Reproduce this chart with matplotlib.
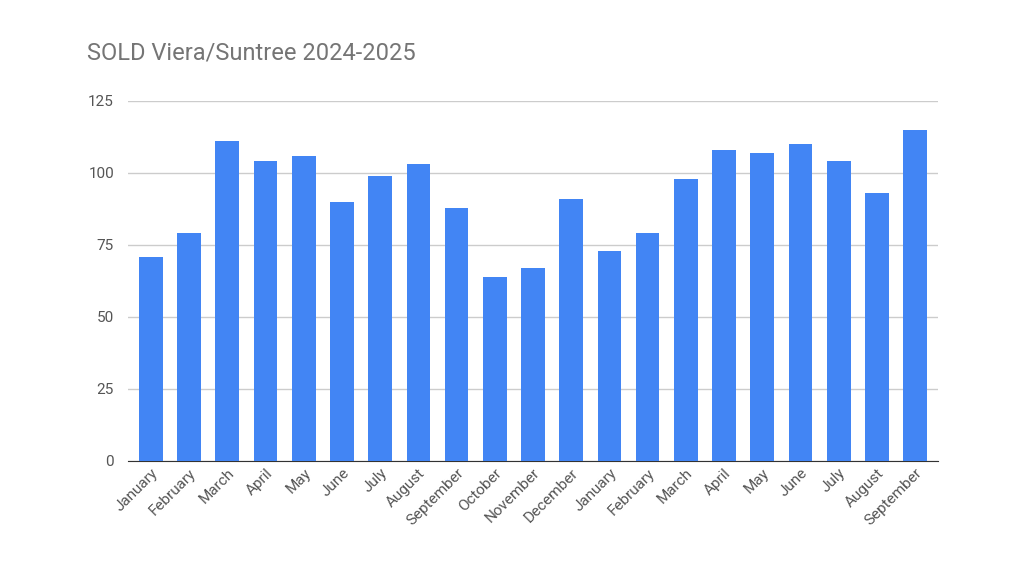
import matplotlib
matplotlib.use("Agg")
import matplotlib.pyplot as plt

months = ["January", "February", "March", "April", "May", "June", "July", "August",
          "September", "October", "November", "December",
          "January", "February", "March", "April", "May", "June", "July", "August", "September"]
sold = [71, 79, 111, 104, 106, 90, 99, 103, 88, 64, 67, 91,
        73, 79, 98, 108, 107, 110, 104, 93, 115]

plt.rcParams["font.family"] = ["Roboto", "DejaVu Sans"]

fig = plt.figure(figsize=(10.24, 5.76), dpi=100)
ax = fig.add_axes([128 / 1024, 1 - 461 / 576, 810 / 1024, 360 / 576])
x = range(len(sold))
ax.bar(x, sold, width=0.62, color="#4285f4", zorder=3)
ax.set_xlim(-0.6, len(sold) - 0.4)
ax.set_ylim(0, 125)
ax.set_yticks([0, 25, 50, 75, 100, 125])
ax.grid(axis="y", color="#cccccc", linewidth=1, zorder=0)
for s in ["top", "right", "left"]:
    ax.spines[s].set_visible(False)
ax.spines["bottom"].set_color("#333333")
ax.tick_params(axis="both", length=0, labelsize=11, labelcolor="#555555")
ax.tick_params(axis="y", pad=10)
ax.set_xticks(list(x))
ax.set_xticklabels(months, rotation=45, ha="right", rotation_mode="anchor")
fig.text(87 / 1024, 1 - 53 / 576, "SOLD Viera/Suntree 2024-2025", fontsize=17,
         color="#757575", va="center", ha="left")
fig.savefig("out.png", dpi=100)
